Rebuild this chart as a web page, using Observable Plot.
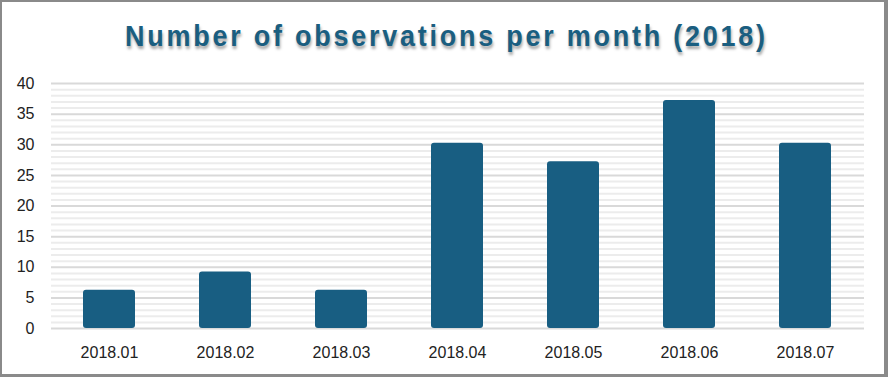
<!DOCTYPE html>
<html>
<head>
<meta charset="utf-8">
<script src="https://cdn.jsdelivr.net/npm/d3@7"></script>
<script src="https://cdn.jsdelivr.net/npm/@observablehq/plot@0.6"></script>
<style>
  html, body { margin: 0; padding: 0; background: #fff; }
  #wrap { position: relative; width: 888px; height: 377px; overflow: hidden; background: #fff; }
  #title {
    position: absolute; left: 0; top: 22px; white-space: nowrap;
    font-family: "Liberation Sans", Arial, sans-serif; line-height: 29px;
    font-weight: bold; font-size: 29px; letter-spacing: 3px; color: #1a5e80;
    text-shadow: 1px 3px 3px rgba(0,0,0,0.35); transform-origin: 0 0;
  }
  #frame {
    position: absolute; left: 0; top: 0; width: 888px; height: 377px; box-sizing: border-box;
    border-style: solid; border-color: #8a8a8a; border-width: 2px 4px 3px 2px; pointer-events: none;
  }
  #chart { position: absolute; left: 0; top: 0; }
</style>
</head>
<body>
<div id="wrap">
  <div id="chart"></div>
  <div id="title">Number of observations per month (2018)</div>
  <div id="frame"></div>
</div>
<script>
const months = ["2018.01", "2018.02", "2018.03", "2018.04", "2018.05", "2018.06", "2018.07"];
const counts = [6, 9, 6, 30, 27, 37, 30];
const yTicks = [0, 5, 10, 15, 20, 25, 30, 35, 40];
const minorTicks = d3.range(0, 41).filter(v => v % 5 !== 0);

const data = months.map((m, i) => ({month: m, count: counts[i]}));

const chart = Plot.plot({
  width: 888,
  height: 377,
  marginTop: 83,
  marginBottom: 49,
  marginLeft: 51,
  marginRight: 24,
  style: {fontFamily: "'Liberation Sans', Arial, sans-serif", fontSize: "16px", color: "#222", background: "transparent"},
  x: {domain: months, paddingInner: 0.55, paddingOuter: 0.275, label: null},
  y: {domain: [0, 40], label: null},
  marks: [
    Plot.ruleY(minorTicks, {stroke: "#ececec", strokeWidth: 2}),
    Plot.ruleY(yTicks, {stroke: "#d9d9d9", strokeWidth: 2}),
    Plot.barY(data, {x: "month", y: "count", fill: "#185e82", rx: 3, insetTop: -1.5}),
    Plot.axisY({ticks: yTicks, tickSize: 0, tickPadding: 17, label: null, fontSize: 16}),
    Plot.axisX({tickSize: 0, tickPadding: 18, label: null, fontSize: 16})
  ]
});
document.getElementById("chart").appendChild(chart);

// fit the title to the reference's span (x 125 → 765)
const t = document.getElementById("title");
const w = t.getBoundingClientRect().width - 3; // drop trailing letter-spacing
const target = 640;
const s = target / w;
t.style.left = "125px";
t.style.transform = `scaleX(${s})`;
</script>
</body>
</html>
